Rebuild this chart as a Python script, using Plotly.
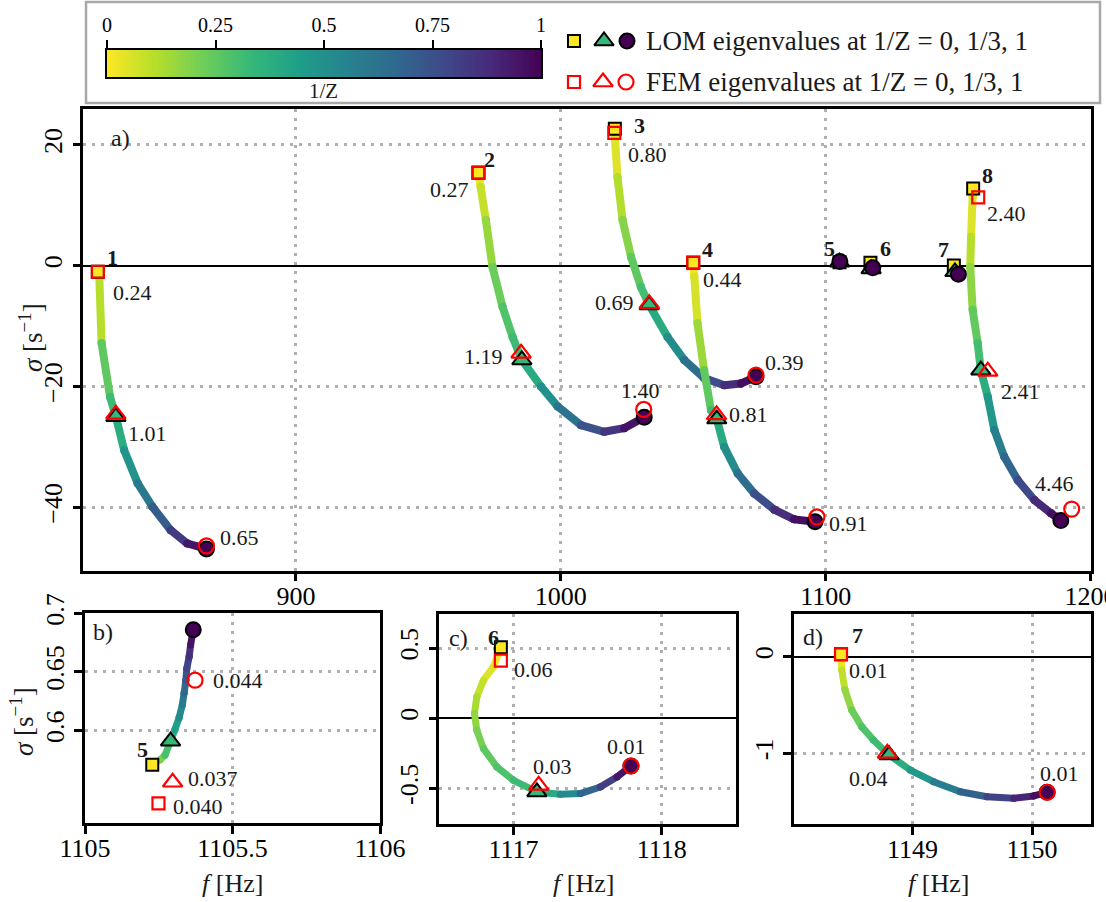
import numpy as np
import plotly.graph_objects as go
from plotly.colors import sample_colorscale

W, H = 1106, 902
SERIF = "Liberation Serif"
CMAP = "Viridis_r"

# ---------------- data ----------------
# Mode 1
m1_f = [825.2, 825.7, 826.6, 829.8, 832.0, 835.1, 840.2, 845.8, 852.7, 859.0, 866.2]
m1_s = [-1.0, -1.3, -12.8, -21.7, -25.0, -30.5, -36.0, -39.9, -43.8, -46.0, -46.9]
m1_z = [0, 0.02, 0.2, 0.3, 0.333, 0.42, 0.55, 0.65, 0.77, 0.88, 1.0]
m1_fem_f = [825.2, 832.0, 866.2]
m1_fem_s = [-1.0, -24.6, -46.4]
m1_lab = ["0.24", "1.01", "0.65"]

# Mode 2
m2_f = [968.9, 969.7, 971.7, 974.2, 978.0, 981.8, 985.3, 992.5, 998.8, 1007.6, 1016.4, 1023.9, 1031.5]
m2_s = [15.4, 13.1, 7.6, -0.2, -6.8, -11.8, -15.6, -20.0, -23.3, -26.4, -27.5, -26.9, -25.1]
m2_z = [0, 0.05, 0.12, 0.2, 0.26, 0.3, 0.333, 0.45, 0.55, 0.68, 0.8, 0.9, 1.0]
m2_fem_f = [968.9, 985.0, 1031.3]
m2_fem_s = [15.4, -14.5, -23.8]
m2_lab = ["0.27", "1.19", "1.40"]

# Mode 3
m3_f = [1020.4, 1020.4, 1021.4, 1023.3, 1026.5, 1030.2, 1033.4, 1040.3, 1046.6, 1054.1, 1061.7, 1068.0, 1073.7]
m3_s = [22.7, 21.4, 14.7, 7.6, 1.5, -3.5, -6.5, -11.8, -15.6, -18.6, -19.8, -19.5, -18.4]
m3_z = [0, 0.02, 0.08, 0.15, 0.22, 0.28, 0.333, 0.45, 0.57, 0.7, 0.82, 0.92, 1.0]
m3_fem_f = [1020.2, 1033.4, 1073.7]
m3_fem_s = [22.0, -6.3, -18.1]
m3_lab = ["0.80", "0.69", "0.39"]

# Mode 4
m4_f = [1050.0, 1050.4, 1051.6, 1054.1, 1056.7, 1058.9, 1061.7, 1066.8, 1073.0, 1080.6, 1088.1, 1096.0]
m4_s = [0.5, -1.8, -9.5, -17.3, -23.9, -25.4, -30.0, -34.4, -37.7, -40.4, -42.0, -42.4]
m4_z = [0, 0.02, 0.1, 0.2, 0.3, 0.333, 0.45, 0.58, 0.7, 0.82, 0.92, 1.0]
m4_fem_f = [1050.0, 1058.8, 1096.7]
m4_fem_s = [0.5, -24.7, -41.6]
m4_lab = ["0.44", "0.81", "0.91"]

# Mode 5 (inset b)
m5_f = [1105.228, 1105.254, 1105.271, 1105.290, 1105.305, 1105.319, 1105.330, 1105.336,
        1105.342, 1105.345, 1105.353, 1105.358, 1105.367]
m5_s = [0.571, 0.575, 0.579, 0.591, 0.601, 0.611, 0.622, 0.632, 0.643, 0.653, 0.663, 0.673, 0.686]
m5_z = [0, 0.15, 0.25, 0.333, 0.4, 0.48, 0.56, 0.63, 0.7, 0.76, 0.83, 0.9, 1.0]
m5_fem_f = [1105.249, 1105.297, 1105.373]
m5_fem_s = [0.538, 0.556, 0.643]
m5_lab = ["0.040", "0.037", "0.044"]

# Mode 6 (inset c)
m6_f = [1116.915, 1116.865, 1116.798, 1116.753, 1116.737, 1116.753, 1116.798, 1116.888, 1117.0,
        1117.158, 1117.315, 1117.45, 1117.585, 1117.697, 1117.792]
m6_s = [0.505, 0.366, 0.271, 0.152, 0.033, -0.086, -0.217, -0.348, -0.443,
        -0.526, -0.543, -0.538, -0.491, -0.419, -0.341]
m6_z = [0, 0.03, 0.07, 0.11, 0.15, 0.19, 0.23, 0.27, 0.3, 0.333, 0.45, 0.6, 0.75, 0.88, 1.0]
m6_fem_f = [1116.915, 1117.17, 1117.792]
m6_fem_s = [0.41, -0.479, -0.341]
m6_lab = ["0.06", "0.03", "0.01"]

# Mode 7 (inset d)
m7_f = [1148.403, 1148.409, 1148.436, 1148.492, 1148.576, 1148.673, 1148.805, 1148.981,
        1149.176, 1149.40, 1149.623, 1149.846, 1150.013, 1150.126]
m7_s = [0.025, -0.138, -0.344, -0.551, -0.724, -0.861, -1.017, -1.172,
        -1.293, -1.396, -1.448, -1.464, -1.44, -1.402]
m7_z = [0, 0.06, 0.13, 0.2, 0.26, 0.3, 0.333, 0.42, 0.52, 0.63, 0.74, 0.85, 0.94, 1.0]
m7_fem_f = [1148.403, 1148.79, 1150.126]
m7_fem_s = [0.025, -1.0, -1.402]
m7_lab = ["0.01", "0.04", "0.01"]

# Mode 8
m8_f = [1155.7, 1155.5, 1154.9, 1154.6, 1155.5, 1157.4, 1158.6, 1161.2, 1163.7, 1167.4,
        1172.5, 1178.8, 1185.1, 1188.8]
m8_s = [12.8, 11.4, 4.8, -0.2, -7.3, -12.8, -17.3, -21.7, -27.2, -31.6, -35.5, -38.8, -41.0, -42.2]
m8_z = [0, 0.02, 0.08, 0.14, 0.21, 0.28, 0.333, 0.42, 0.52, 0.62, 0.72, 0.83, 0.93, 1.0]
m8_fem_f = [1157.6, 1161.2, 1192.9]
m8_fem_s = [11.3, -17.5, -40.3]
m8_lab = ["2.40", "2.41", "4.46"]

cbar_ticks = [0, 0.25, 0.5, 0.75, 1]

# ---------------- figure ----------------
fig = go.Figure()


def pxx(x):
    return x / W


def pyy(y):
    return 1 - y / H


def add_curve(f, s, z, xa, ya, width):
    mids = [(z[i] + z[i + 1]) / 2 for i in range(len(z) - 1)]
    cols = sample_colorscale(CMAP, mids)
    for i, c in enumerate(cols):
        fig.add_trace(go.Scatter(
            x=[f[i], f[i + 1]], y=[s[i], s[i + 1]], mode="lines+markers",
            line=dict(color=c, width=width),
            marker=dict(color=c, size=width, line=dict(width=0)),
            xaxis=xa, yaxis=ya, hoverinfo="skip", showlegend=False))


def key_points(f, s, z):
    i_tri = int(np.argmin(np.abs(np.array(z) - 1 / 3)))
    return [f[0], f[i_tri], f[-1]], [s[0], s[i_tri], s[-1]]


SYMS = ["square", "triangle-up", "circle"]
LOM_FILL = sample_colorscale(CMAP, [0, 1 / 3, 1])
SIZES = [12, 17, 15]


def add_lom(f3, s3, xa, ya, order=(0, 1, 2)):
    for k in order:
        fig.add_trace(go.Scatter(
            x=[f3[k]], y=[s3[k]], mode="markers",
            marker=dict(symbol=SYMS[k], size=SIZES[k], color=LOM_FILL[k],
                        line=dict(color="black", width=2)),
            xaxis=xa, yaxis=ya, hoverinfo="skip", showlegend=False))


def add_fem(f3, s3, xa, ya):
    for k in range(3):
        fig.add_trace(go.Scatter(
            x=[f3[k]], y=[s3[k]], mode="markers",
            marker=dict(symbol=SYMS[k] + "-open", size=SIZES[k], color="red",
                        line=dict(color="red", width=2.2)),
            xaxis=xa, yaxis=ya, hoverinfo="skip", showlegend=False))


def label(text, x, y, xa, ya, dx, dy, size=22, bold=False):
    fig.add_annotation(
        x=x, y=y, xref=xa, yref=ya, showarrow=False, xshift=dx, yshift=dy,
        text=("<b>%s</b>" % text) if bold else text,
        font=dict(family=SERIF, size=size, color="#1a1a1a"))


# ---- panel a ----
main_modes = [
    (m1_f, m1_s, m1_z, m1_fem_f, m1_fem_s, m1_lab, "1",
     [(35, -21), (32, -19), (33, 8)], (15, 14)),
    (m2_f, m2_s, m2_z, m2_fem_f, m2_fem_s, m2_lab, "2",
     [(-29, -17), (-38, -3), (-3, 19)], (11, 13)),
    (m3_f, m3_s, m3_z, m3_fem_f, m3_fem_s, m3_lab, "3",
     [(33, -22), (-35, 1), (28, 13)], (25, 3)),
    (m4_f, m4_s, m4_z, m4_fem_f, m4_fem_s, m4_lab, "4",
     [(29, -17), (32, 0), (32, -7)], (14, 13)),
    (m8_f, m8_s, m8_z, m8_fem_f, m8_fem_s, m8_lab, "8",
     [(28, -16), (33, -20), (-17, 26)], (14, 13)),
]
for f, s, z, ff, fs, lab, num, sh, nsh in main_modes:
    add_curve(f, s, z, "x", "y", 8)
for f, s, z, ff, fs, lab, num, sh, nsh in main_modes:
    kf, ks = key_points(f, s, z)
    add_lom(kf, ks, "x", "y")
    add_fem(ff, fs, "x", "y")
    for k in range(3):
        label(lab[k], ff[k], fs[k], "x", "y", sh[k][0], sh[k][1])
    label(num, kf[0], ks[0], "x", "y", nsh[0], nsh[1], size=22, bold=True)

# small modes 5, 6, 7 in panel a (LOM markers only)
for f, s, z, num, nsh in [(m5_f, m5_s, m5_z, "5", (-10, 14)),
                          (m6_f, m6_s, m6_z, "6", (15, 14)),
                          (m7_f, m7_s, m7_z, "7", (-10, 16))]:
    kf, ks = key_points(f, s, z)
    add_lom(kf, ks, "x", "y")
    label(num, kf[0], ks[0], "x", "y", nsh[0], nsh[1], size=22, bold=True)

# ---- insets ----
insets = [
    ("x2", "y2", m5_f, m5_s, m5_z, m5_fem_f, m5_fem_s, m5_lab, "5",
     [(40, -3), (40, 4), (43, 0)], (-10, 15)),
    ("x3", "y3", m6_f, m6_s, m6_z, m6_fem_f, m6_fem_s, m6_lab, "6",
     [(33, -9), (14, 19), (-4, 19)], (-7, 10)),
    ("x4", "y4", m7_f, m7_s, m7_z, m7_fem_f, m7_fem_s, m7_lab, "7",
     [(27, -16), (-19, -25), (12, 19)], (16, 19)),
]
for xa, ya, f, s, z, ff, fs, lab, num, sh, nsh in insets:
    add_curve(f, s, z, xa, ya, 7)
    kf, ks = key_points(f, s, z)
    add_lom(kf, ks, xa, ya)
    add_fem(ff, fs, xa, ya)
    for k in range(3):
        label(lab[k], ff[k], fs[k], xa, ya, sh[k][0], sh[k][1])
    label(num, kf[0], ks[0], xa, ya, nsh[0], nsh[1], size=22, bold=True)

# ---- colorbar (heatmap in its own axes) ----
cb_x = np.linspace(0, 1, 256)
fig.add_trace(go.Heatmap(x=cb_x, y=[0], z=[cb_x], colorscale=CMAP, showscale=False,
                         xaxis="x5", yaxis="y5", hoverinfo="skip"))

# ---- legend markers (pixel overlay axes) ----
for k, xm in enumerate([574, 604, 627]):
    fig.add_trace(go.Scatter(
        x=[xm], y=[41], mode="markers",
        marker=dict(symbol=SYMS[k], size=SIZES[k], color=LOM_FILL[k],
                    line=dict(color="black", width=2)),
        xaxis="x6", yaxis="y6", hoverinfo="skip", showlegend=False))
for k, xm in enumerate([574, 603, 626]):
    fig.add_trace(go.Scatter(
        x=[xm], y=[82], mode="markers",
        marker=dict(symbol=SYMS[k] + "-open", size=SIZES[k], color="red",
                    line=dict(color="red", width=2.2)),
        xaxis="x6", yaxis="y6", hoverinfo="skip", showlegend=False))

# ---------------- layout ----------------
grid = dict(showgrid=True, gridcolor="#b0b0b0", gridwidth=2.5, griddash="3px,6px")
frame = dict(showline=True, linecolor="black", linewidth=2.5, mirror=True,
             ticks="outside", ticklen=8, tickwidth=2.5, tickcolor="black",
             tickfont=dict(family=SERIF, size=26, color="black"), zeroline=False,
             ticklabeloverflow="allow")
zl = dict(zeroline=True, zerolinecolor="black", zerolinewidth=2)
xlab = dict(ticklabelstandoff=-8)


def ax(**kw):
    d = dict(grid)
    d.update(frame)
    d.update(kw)
    return d


fig.update_layout(
    width=W, height=H, autosize=False,
    margin=dict(l=0, r=0, t=0, b=0, pad=0, autoexpand=False),
    paper_bgcolor="white", plot_bgcolor="rgba(0,0,0,0)",
    showlegend=False,
    xaxis=ax(domain=[pxx(83.3), pxx(1090.5)], range=[819.7, 1200], anchor="y",
             tickvals=[900, 1000, 1100, 1200], **xlab),
    yaxis=ax(domain=[pyy(570.7), pyy(109.3)], range=[-50.5, 25.9], anchor="x",
             tickvals=[-40, -20, 0, 20], tickangle=-90, **zl),
    xaxis2=ax(domain=[pxx(85), pxx(380)], range=[1105, 1106], anchor="y2",
              tickvals=[1105, 1105.5, 1106], ticktext=["1105", "1105.5", "1106"], **xlab),
    yaxis2=ax(domain=[pyy(823.3), pyy(613.3)], range=[0.521, 0.7], anchor="x2",
              tickvals=[0.6, 0.65, 0.7], ticktext=["0.6", "0.65", "0.7"], tickangle=-90),
    xaxis3=ax(domain=[pxx(439.3), pxx(736)], range=[1116.5, 1118.5], anchor="y3",
              tickvals=[1117, 1118], **xlab),
    yaxis3=ax(domain=[pyy(824.3), pyy(614)], range=[-0.757, 0.743], anchor="x3",
              tickvals=[-0.5, 0, 0.5], ticktext=["-0.5", "0", "0.5"], tickangle=-90, **zl),
    xaxis4=ax(domain=[pxx(794), pxx(1090.7)], range=[1148.01, 1150.49], anchor="y4",
              tickvals=[1149, 1150], **xlab),
    yaxis4=ax(domain=[pyy(824.3), pyy(614)], range=[-1.733, 0.44], anchor="x4",
              tickvals=[-1, 0], ticktext=["-1", "0"], tickangle=-90, **zl),
    xaxis5=dict(domain=[pxx(107), pxx(541)], range=[0, 1], anchor="y5", side="top",
                showline=True, linecolor="black", linewidth=2, mirror=True,
                ticks="outside", ticklen=8, tickwidth=1.5, tickcolor="black",
                tickvals=cbar_ticks, ticktext=["0", "0.25", "0.5", "0.75", "1"],
                tickfont=dict(family=SERIF, size=20, color="black"),
                showgrid=False, zeroline=False),
    yaxis5=dict(domain=[pyy(77), pyy(50)], range=[-0.5, 0.5], anchor="x5",
                showline=True, linecolor="black", linewidth=2, mirror=True,
                showticklabels=False, ticks="", showgrid=False, zeroline=False),
    xaxis6=dict(domain=[0, 1], range=[0, W], anchor="y6", visible=False),
    yaxis6=dict(domain=[0, 1], range=[H, 0], anchor="x6", visible=False),
)

# legend box
fig.add_shape(type="rect", xref="paper", yref="paper",
              x0=pxx(86), x1=pxx(1100), y0=pyy(103), y1=pyy(2),
              line=dict(color="#a8a8a8", width=2.5), fillcolor="rgba(0,0,0,0)")


# texts in pixel-placed paper coordinates
def ptext(text, x, y, size, angle=0, anchor="center"):
    fig.add_annotation(x=pxx(x), y=pyy(y), xref="paper", yref="paper", showarrow=False,
                       text=text, textangle=angle, xanchor=anchor, yanchor="middle",
                       font=dict(family=SERIF, size=size, color="#1a1a1a"))


ptext("LOM eigenvalues at 1/Z = 0, 1/3, 1", 644, 41, 27, anchor="left")
ptext("FEM eigenvalues at 1/Z = 0, 1/3, 1", 644, 82, 27, anchor="left")
ptext("1/Z", 323, 91, 21)
ptext("<i>σ</i> [s<sup>−1</sup>]", 31, 338, 27, angle=-90)
ptext("<i>σ</i> [s<sup>−1</sup>]", 22, 722, 27, angle=-90)
ptext("<i>f</i> [Hz]", 232, 883, 26)
ptext("<i>f</i> [Hz]", 583, 883, 26)
ptext("<i>f</i> [Hz]", 938, 883, 26)
ptext("a)", 120, 138, 24)
ptext("b)", 103, 632, 24)
ptext("c)", 458, 638, 24)
ptext("d)", 813, 637, 24)

fig.write_html("out.html",
               config={"displayModeBar": False},
               post_script="document.body.style.margin='0';document.body.style.overflow='hidden';")
